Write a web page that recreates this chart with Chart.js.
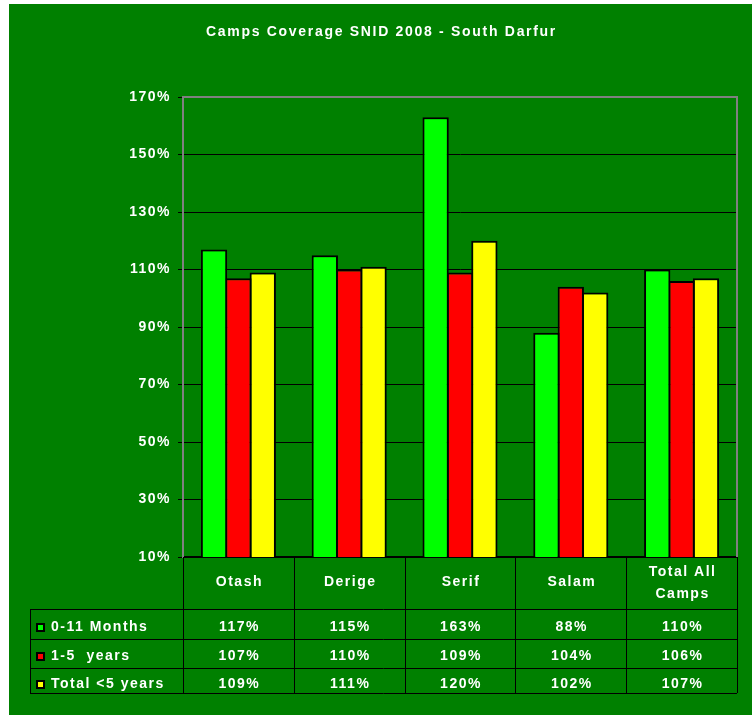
<!DOCTYPE html>
<html>
<head>
<meta charset="utf-8">
<title>Camps Coverage SNID 2008 - South Darfur</title>
<script src="https://cdn.jsdelivr.net/npm/chart.js@4.4.1/dist/chart.umd.min.js"></script>
<style>
    html, body { margin: 0; padding: 0; background: #fff; }
    #wrap { position: absolute; left: 9px; top: 4px; width: 743px; height: 711px; background: #008000; }
</style>
</head>
<body>
<div id="wrap"><canvas id="coverage-chart"></canvas></div>
<script>
// DATA
const title = "Camps Coverage SNID 2008 - South Darfur";
const camps = ["Otash", "Derige", "Serif", "Salam", ["Total All", "Camps"]];
const seriesNames = ["0-11 Months", "1-5  years", "Total <5 years"];
const months0to11 = [117, 115, 163, 88, 110];
const years1to5 = [107, 110, 109, 104, 106];
const under5 = [109, 111, 120, 102, 107];
const yTicks = [10, 30, 50, 70, 90, 110, 130, 150, 170];

const seriesValues = [months0to11, years1to5, under5];
const seriesColors = ["#00ff00", "#ff0000", "#ffff00"];
const FAMILY = '"Liberation Sans", Arial, sans-serif';
const FONT = "bold 14px " + FAMILY;

// table below the plot + title + grey frame
const tablePlugin = {
    id: "coverageTable",
    beforeDraw(chart) {
        chart.ctx.letterSpacing = "1.5px"; // spaced-out Excel text
    },
    beforeDatasetsDraw(chart) {
        const { ctx, chartArea: a } = chart;
        ctx.save();
        ctx.strokeStyle = "#808080";
        ctx.lineWidth = 2;
        ctx.beginPath();
        ctx.moveTo(a.left, a.top);
        ctx.lineTo(a.right, a.top);
        ctx.lineTo(a.right, a.bottom);
        ctx.stroke();
        ctx.restore();
    },
    afterDraw(chart) {
        const { ctx, chartArea: a, scales: { x } } = chart;
        const colW = x.width / camps.length;
        const legendLeft = 21;
        const lines = [a.bottom, a.bottom + 52, a.bottom + 82, a.bottom + 111, a.bottom + 136];
        const rowY = [a.bottom + 70, a.bottom + 99, a.bottom + 127];

        ctx.save();
        ctx.font = FONT;
        ctx.fillStyle = "#fff";
        ctx.textBaseline = "middle";

        // title
        ctx.letterSpacing = "1.7px";
        ctx.textAlign = "center";
        ctx.fillText(title, chart.width / 2 + 1, 28);
        ctx.letterSpacing = "1.5px";

        // grid lines of the table
        ctx.strokeStyle = "#000";
        ctx.lineWidth = 1;
        ctx.beginPath();
        for (let i = 1; i < lines.length; i++) {
            ctx.moveTo(legendLeft, Math.round(lines[i]) + 0.5);
            ctx.lineTo(a.right, Math.round(lines[i]) + 0.5);
        }
        for (let i = 0; i <= camps.length; i++) {
            const lx = Math.round(a.left + i * colW) + 0.5;
            ctx.moveTo(lx, a.bottom);
            ctx.lineTo(lx, lines[4]);
        }
        ctx.moveTo(legendLeft + 0.5, lines[1]);
        ctx.lineTo(legendLeft + 0.5, lines[4]);
        ctx.stroke();

        // category row
        camps.forEach((c, i) => {
            const cx = x.getPixelForValue(i) + 1;
            if (Array.isArray(c)) {
                ctx.fillText(c[0], cx, a.bottom + 15);
                ctx.fillText(c[1], cx, a.bottom + 37);
            } else {
                ctx.fillText(c, cx, a.bottom + 25);
            }
        });

        // series rows
        seriesValues.forEach((vals, r) => {
            const cy = rowY[r];
            ctx.fillStyle = "#000";
            ctx.fillRect(27, cy - 4, 9, 9);
            ctx.fillStyle = seriesColors[r];
            ctx.fillRect(29, cy - 2, 5, 5);
            ctx.fillStyle = "#fff";
            ctx.textAlign = "left";
            ctx.fillText(seriesNames[r], 42, cy);
            ctx.textAlign = "center";
            vals.forEach((v, i) => {
                ctx.fillText(v + "%", x.getPixelForValue(i) + 1, cy);
            });
        });
        ctx.restore();
    }
};

const ctx = document.getElementById("coverage-chart").getContext("2d");

const data = {
    labels: camps,
    datasets: seriesValues.map((vals, i) => ({
        label: seriesNames[i],
        data: vals,
        backgroundColor: seriesColors[i],
        borderColor: "#000",
        borderWidth: 2,
        categoryPercentage: 0.66,
        barPercentage: 1.08, // bars overlap by their border, like Excel
    })),
};

const config = {
    type: "bar",
    data: data,
    options: {
        responsive: true,
        maintainAspectRatio: false,
        animation: false,
        events: [],
        layout: { padding: { left: 0, right: 15, top: 93, bottom: 158 } },
        plugins: {
            legend: { display: false },
            tooltip: { enabled: false },
        },
        scales: {
            x: {
                ticks: { display: false },
                grid: { display: false },
                border: { color: "#000", width: 2 },
                afterFit: (scale) => { scale.height = 0; },
            },
            y: {
                min: 10,
                max: 170,
                afterBuildTicks: (scale) => { scale.ticks = yTicks.map((v) => ({ value: v })); },
                afterFit: (scale) => { scale.width = 174; },
                ticks: {
                    color: "#fff",
                    padding: 7,
                    font: { family: FAMILY, size: 14, weight: "bold" },
                    callback: (v) => v + "%",
                },
                grid: { color: "#000", lineWidth: 1, tickLength: 5 },
                border: { color: "#808080", width: 2 },
            },
        },
    },
    plugins: [tablePlugin],
};

const coverageChart = new Chart(ctx, config);
</script>
</body>
</html>
